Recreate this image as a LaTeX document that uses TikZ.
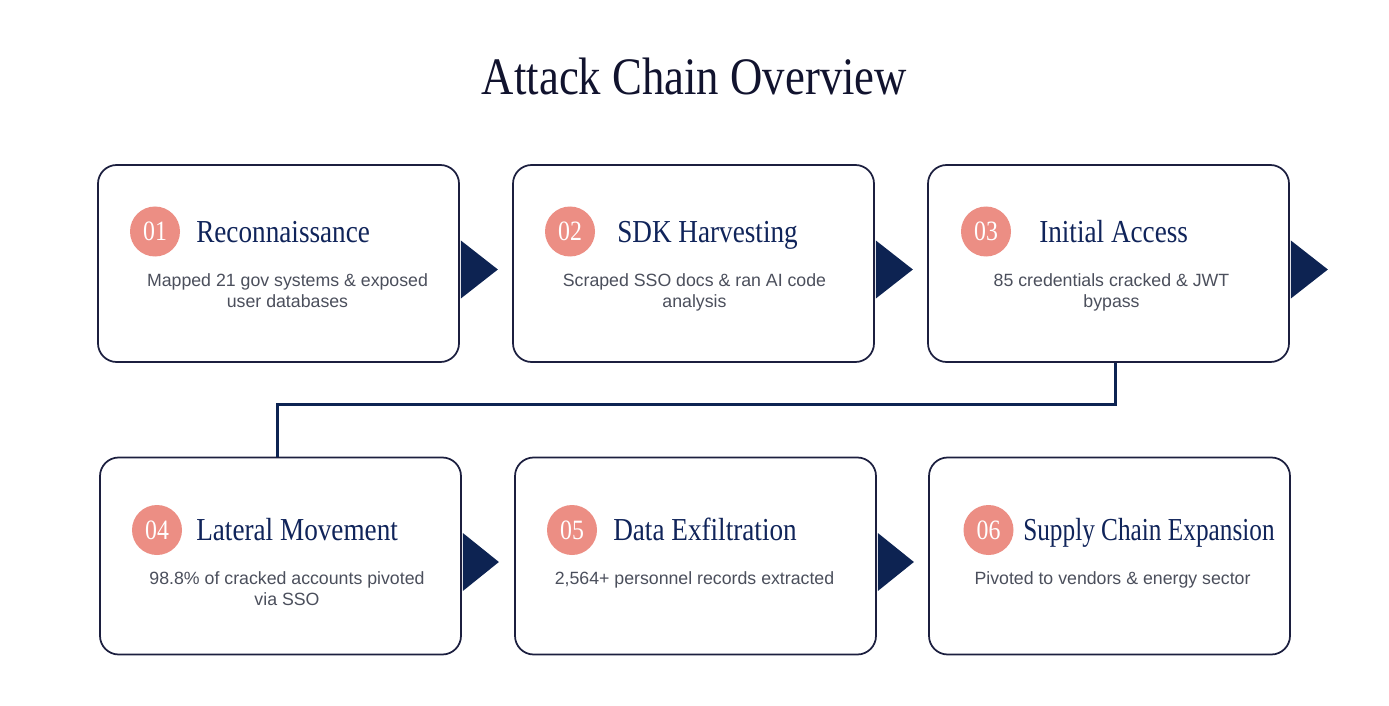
\documentclass[tikz,border=0pt]{standalone}
\usepackage{fontspec}
\setmainfont{Liberation Sans}
\newfontfamily\headfont[FakeStretch=0.85]{Liberation Serif}
\definecolor{navy}{HTML}{0D2352}
\definecolor{boxline}{HTML}{1C1F3F}
\definecolor{headblue}{HTML}{10245A}
\definecolor{titleink}{HTML}{11132E}
\definecolor{salmon}{HTML}{EC8E84}
\definecolor{bodygray}{HTML}{4B4F5C}

\begin{document}
\begin{tikzpicture}[x=0.75pt, y=-0.75pt,
	stage/.style={draw=boxline, line width=1.3pt, rounded corners=14pt, fill=white, minimum width=270.75pt, minimum height=147.75pt},
	num/.style={circle, fill=salmon, text=white, minimum size=37.5pt, inner sep=0pt, font=\headfont\fontsize{21}{24}\selectfont},
	head/.style={anchor=base west, inner sep=0pt, text=headblue, font=\headfont\fontsize{24}{28}\selectfont},
	desc/.style={anchor=north, align=center, inner sep=0pt, text=bodygray, font=\fontsize{13.3}{15.75}\selectfont},
	tip/.style={fill=navy},
	link/.style={draw=navy, line width=2.2pt}]
		\useasboundingbox (0,0) rectangle (1389,706);
		\node[anchor=base, text=titleink, font=\headfont\fontsize{39.5}{48}\selectfont] (Title) at (694.5,95) {Attack Chain Overview};
		% Stages
		\node[stage] (Recon) at (278.5,263.5) {};
		\node[stage] (Harvest) at (693.5,263.5) {};
		\node[stage] (Access) at (1108.5,263.5) {};
		\node[stage] (Lateral) at (280.5,556) {};
		\node[stage] (Exfil) at (695.5,556) {};
		\node[stage] (Supply) at (1109.5,556) {};
		% Numbers
		\node[num] (Recon num) at (155,231.5) {01};
		\node[num] (Harvest num) at (570,231.5) {02};
		\node[num] (Access num) at (986,231.5) {03};
		\node[num] (Lateral num) at (157,530) {04};
		\node[num] (Exfil num) at (572,530) {05};
		\node[num] (Supply num) at (988.5,530) {06};
		% Headings
		\node[head] (Recon head) at (196,242.5) {Reconnaissance};
		\node[head] (Harvest head) at (617,242.5) {SDK Harvesting};
		\node[head] (Access head) at (1039,242.5) {Initial Access};
		\node[head] (Lateral head) at (196,540) {Lateral Movement};
		\node[head] (Exfil head) at (613,540) {Data Exfiltration};
		\node[head] (Supply head) at (1023,540) {\addfontfeature{FakeStretch=0.79}Supply Chain Expansion};
		% Descriptions
		\node[desc] (Recon text) at (287.5,273) {Mapped 21 gov systems \& exposed\\user databases};
		\node[desc] (Harvest text) at (694.5,273) {Scraped SSO docs \& ran AI code\\analysis};
		\node[desc] (Access text) at (1111.5,273) {85 credentials cracked \& JWT\\bypass};
		\node[desc] (Lateral text) at (287,571) {98.8\% of cracked accounts pivoted\\via SSO};
		\node[desc] (Exfil text) at (694.5,571) {2,564+ personnel records extracted};
		\node[desc] (Supply text) at (1112.5,571) {Pivoted to vendors \& energy sector};
		% Arrows
		\fill[tip] (Recon.east) ++(1,-23) -- ++(37,29) -- ++(-37,29) -- cycle;
		\fill[tip] (Harvest.east) ++(1,-23) -- ++(37,29) -- ++(-37,29) -- cycle;
		\fill[tip] (Access.east) ++(1,-23) -- ++(37,29) -- ++(-37,29) -- cycle;
		\fill[tip] (Lateral.east) ++(1,-23) -- ++(36,29) -- ++(-36,29) -- cycle;
		\fill[tip] (Exfil.east) ++(1,-23) -- ++(36,29) -- ++(-36,29) -- cycle;
		\draw[link] ([xshift=4.9pt]Access.south) -- ++(0,42) -| ([xshift=-2.6pt]Lateral.north);
	\end{tikzpicture}
\end{document}
